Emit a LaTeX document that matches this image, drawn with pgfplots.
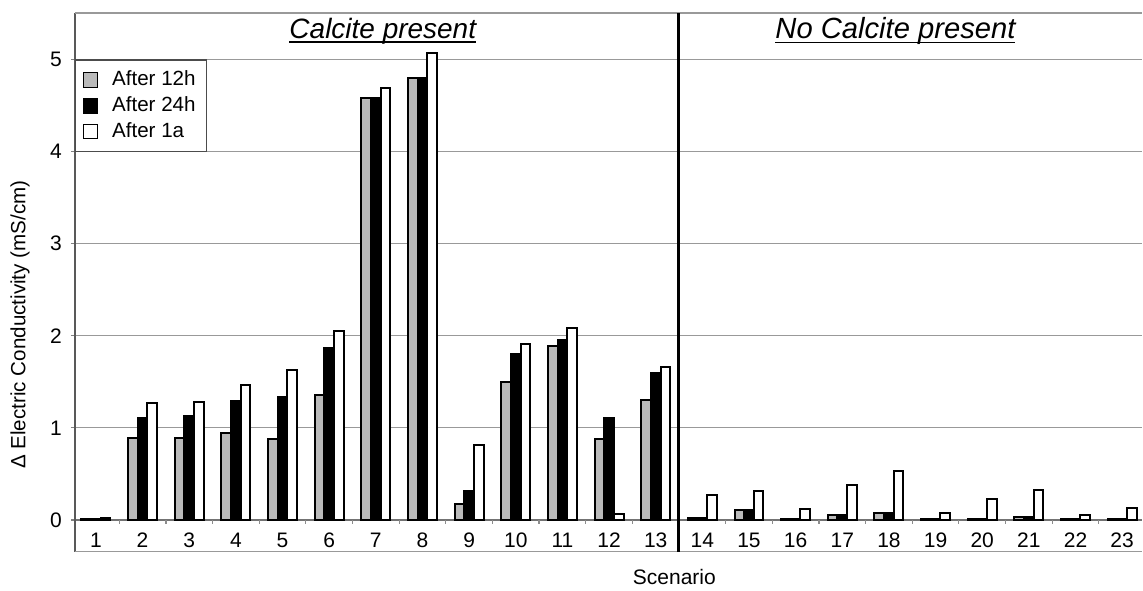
\documentclass[border=0pt]{standalone}
\usepackage{pgfplots}
\pgfplotsset{compat=1.18}
\usepackage{pgfplotstable}
\usepackage{fontspec}
\setmainfont{Liberation Sans}
\newcommand\ulx[1]{\setbox0\hbox{#1}\rlap{\rule[-2.4pt]{\wd0}{0.8pt}}\box0}

\pgfplotstableread{
x  h12    h24    a1
1  0.005  0.01   0.02
2  0.886  1.11   1.27
3  0.89   1.13   1.28
4  0.94   1.29   1.47
5  0.875  1.33   1.63
6  1.355  1.865  2.056
7  4.58   4.58   4.69
8  4.80   4.80   5.07
9  0.17   0.31   0.81
10 1.50   1.80   1.915
11 1.89   1.955  2.08
12 0.88   1.11   0.06
13 1.30   1.60   1.665
14 0.02   0.02   0.27
15 0.105  0.105  0.31
16 0.015  0.015  0.12
17 0.054  0.054  0.376
18 0.08   0.08   0.53
19 0.015  0.015  0.08
20 0.015  0.015  0.23
21 0.03   0.03   0.325
22 0.015  0.015  0.058
23 0.015  0.015  0.13
}\datatable

\begin{document}
\begin{tikzpicture}
\begin{axis}[
  scale only axis,
  clip=false,
  width=534pt, height=269.35pt,
  xmin=0.55, xmax=23.43,
  ymin=-0.344, ymax=5.5,
  ybar=0pt, bar width=4.83pt,
  axis line style={draw=none},
  xtick={1,...,23},
  xtick pos=bottom, ytick pos=left,
  x tick style={draw=none},
  ytick={0,1,2,3,4,5},
  tick align=outside,
  major tick length=2pt,
  y tick style={black!50, line width=0.6pt},
  ymajorgrids, grid style={black!40, line width=0.6pt},
  /pgf/number format/assume math mode=true,
  tick label style={font=\fontsize{10.5}{12}\selectfont},
  xticklabel style={anchor=base, yshift=4.3pt},
  yticklabel style={anchor=east, xshift=-1pt},
  legend style={at={(axis cs:0.55,5)}, anchor=north west, draw=black!70,
    fill=white, font=\fontsize{10.3}{12}\selectfont, inner xsep=3.5pt,
    inner ysep=3.5pt, row sep=0pt, line width=0.6pt,
    /tikz/every odd column/.append style={column sep=5pt}},
  legend cell align=left,
  legend image code/.code={\draw[#1, line width=0.5pt] (0pt,-3.6pt) rectangle (7.3pt,3.6pt);},
  every axis plot/.append style={draw=black, line width=1pt},
]
\draw[black!55, line width=0.6pt] (axis cs:0.55,0) -- (axis cs:23.43,0);
\pgfplotsinvokeforeach{1.5,2.5,...,22.5}{
  \draw[black!45, line width=0.6pt] (axis cs:#1,0) -- (axis cs:#1,-0.045);
}
\addplot[fill=black!27] table[x=x, y=h12] {\datatable};
\addlegendentry{After 12h}
\addplot[fill=black] table[x=x, y=h24] {\datatable};
\addlegendentry{After 24h}
\addplot[fill=white] table[x=x, y=a1] {\datatable};
\addlegendentry{After 1a\hspace{10pt}}
\draw[black!65, line width=0.8pt] (axis cs:0.55,-0.344) -- (axis cs:0.55,5.5);
\draw[black!40, line width=0.8pt] (axis cs:0.55,5.5) -- (axis cs:23.43,5.5);
\draw[black!40, line width=0.8pt] (axis cs:0.55,-0.344) -- (axis cs:23.43,-0.344);
\draw[black, line width=1.5pt] (axis cs:13.49,-0.344) -- (axis cs:13.49,5.5);
\node[font=\fontsize{14}{16}\selectfont\itshape] at (axis cs:7.15,5.31) {\ulx{Calcite present}};
\node[font=\fontsize{14.6}{16}\selectfont\itshape] at (axis cs:18.14,5.31) {\ulx{No Calcite present}};
\node[rotate=90, font=\fontsize{10.3}{12}\selectfont] at ([xshift=-27.5pt]axis cs:0.55,2.12) {Δ Electric Conductivity (mS/cm)};
\node[font=\fontsize{10.5}{12}\selectfont] at ([yshift=-12.5pt]axis cs:13.4,-0.344) {Scenario};
\end{axis}
\path[use as bounding box] ([xshift=-37.5pt,yshift=-17pt]current axis.south west) rectangle ([yshift=6.65pt]current axis.north east);
\end{tikzpicture}
\end{document}
